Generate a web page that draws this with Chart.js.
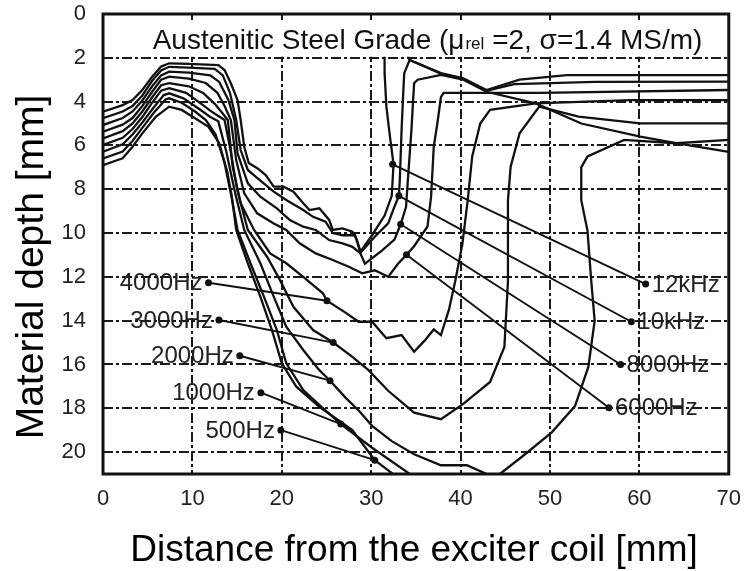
<!DOCTYPE html>
<html>
<head>
<meta charset="utf-8">
<script src="https://cdn.jsdelivr.net/npm/chart.js@4.4.0/dist/chart.umd.min.js"></script>
<style>
  html, body { margin: 0; padding: 0; background: #fff; }
  #wrap { width: 753px; height: 571px; }
</style>
</head>
<body>
<div id="wrap"><canvas id="depthChart" width="753" height="571"></canvas></div>
<script>
// contour lines: [distance from coil mm, material depth mm]
const f12k = [[0,4.46],[2.2,4.16],[3.3,3.93],[4.4,3.47],[5.5,2.86],[6.5,2.4],[7.4,2.25],[9.6,2.28],[12.9,2.33],[13.6,2.56],[14.3,3.16],[15.05,3.93],[15.4,4.84],[15.8,6.06],[16.3,6.8],[17.3,7.05],[18.2,7.35],[19.1,7.88],[20.2,7.88],[21.3,8.11],[22.4,8.64],[23.1,8.95],[24.2,8.87],[25.3,9.4],[25.7,9.86],[26.8,9.79],[27.9,9.94],[28.4,10.32],[28.8,10.85],[30.1,10.1],[31.5,9.2],[32.3,8.3],[32.5,6.86],[32.1,5.6],[31.7,4.23],[31.5,2.7],[31.5,1.9],[31.6,1.0],[33.5,1.2],[34.3,2.1],[37.8,2.7],[40.3,2.94],[42.9,3.47],[46.6,3.0],[51.9,2.79],[70,2.79]];
const f10k = [[0,4.76],[2.2,4.45],[3.3,4.2],[4.4,3.72],[5.5,3.05],[6.5,2.58],[7.4,2.41],[9.6,2.45],[12.5,2.5],[13.4,2.8],[14.2,3.6],[14.9,4.84],[15.4,6.21],[16.2,7.12],[17.3,7.5],[19.1,8.11],[20.5,8.49],[22.4,8.95],[23.5,9.26],[24.9,9.48],[25.7,10.0],[26.8,10.1],[28.2,10.1],[28.8,10.9],[30.4,10.17],[31.9,9.56],[32.6,8.8],[33.1,8.3],[33.2,7.6],[33.4,5.3],[33.6,3.47],[33.7,2.7],[34.3,2.1],[37.8,2.72],[40.3,2.96],[42.9,3.5],[46,3.2],[55,3.1],[70,3.09]];
const f8k = [[0,5.07],[2.2,4.75],[3.3,4.45],[4.4,3.95],[5.5,3.3],[6.5,2.8],[7.4,2.63],[9.6,2.68],[12.0,2.8],[13.0,3.1],[14.0,3.9],[14.7,4.84],[15.05,6.36],[16.2,7.73],[17.6,8.34],[19.45,8.87],[20.9,9.41],[22.4,9.71],[23.8,9.86],[25.3,10.32],[26.8,10.47],[27.9,10.63],[28.8,10.93],[29.3,11.4],[31.2,10.8],[32.6,10.3],[33.3,9.6],[33.9,8.8],[34.1,7.6],[34.5,5.3],[34.8,3.16],[35.2,3.0],[37.8,2.78],[40.3,3.0],[42.9,3.55],[48.4,4.08],[53.5,5.0],[60.1,5.6],[64.1,5.9],[70,6.29]];
const f6k = [[0,5.37],[2.2,5.05],[3.3,4.75],[4.4,4.2],[5.5,3.55],[6.5,3.0],[7.4,2.86],[9.6,2.95],[11.5,3.15],[12.8,3.6],[13.6,4.2],[14.3,4.84],[14.9,6.67],[15.8,8.19],[17.25,9.1],[19.1,9.56],[20.5,9.86],[22.0,10.47],[23.8,10.93],[25.7,11.23],[27.5,11.54],[29.0,11.84],[30.4,11.7],[31.9,12.0],[33.0,11.4],[33.95,10.99],[34.8,10.6],[36.3,9.7],[36.7,8.34],[37.0,6.06],[37.4,5.0],[37.8,3.8],[38.1,3.6],[48.8,3.6],[70,3.47]];
const f4k = [[0,5.68],[2.2,5.35],[3.3,5.0],[4.4,4.45],[5.5,3.8],[6.5,3.25],[7.4,3.16],[9.6,3.3],[11.2,3.6],[12.5,4.1],[13.3,4.5],[13.96,4.84],[14.5,6.97],[15.4,8.64],[16.9,9.86],[18.7,10.93],[20.5,11.38],[22.4,12.0],[24.6,12.75],[25.05,13.09],[27.0,13.6],[28.6,14.05],[30.1,14.05],[31.7,14.8],[33.4,14.66],[34.8,15.42],[36,14.9],[37,14.4],[37.8,14.66],[38.7,13.5],[39.4,12.2],[40.2,10.5],[40.8,8.5],[41.3,6.5],[42.2,5.0],[43.3,4.38],[48.4,4.08],[59,3.93],[70,3.93]];
const f3k = [[0,5.98],[2.2,5.65],[3.3,5.25],[4.4,4.7],[5.5,4.05],[6.5,3.5],[7.4,3.39],[9.3,3.6],[11.0,4.1],[12.3,4.5],[13.6,4.84],[14.3,6.3],[15.0,8.0],[16.2,9.86],[18.35,11.08],[19.8,12.15],[21.3,13.37],[23.5,14.43],[25.75,15.0],[27.9,15.65],[29.7,16.26],[31.9,17.2],[34.8,18.2],[37.8,18.5],[40.3,17.8],[43.3,16.8],[44.9,15.2],[45.1,13.7],[45.3,12.2],[45.3,10.8],[45.3,8.5],[45.6,6.97],[46.6,5.45],[48.8,4.23],[53.2,4.69],[60.1,4.99],[70,4.99]];
const f2k = [[0,6.29],[2.2,5.95],[3.3,5.5],[4.4,4.95],[5.6,4.3],[6.8,3.7],[7.4,3.62],[9.0,3.85],[10.8,4.35],[12.0,4.7],[12.9,4.9],[13.8,6.3],[14.8,8.2],[15.8,9.86],[17.6,11.38],[19.1,12.9],[20.5,14.28],[22.4,15.34],[24.2,16.26],[25.4,16.74],[27.1,17.5],[28.6,18.1],[30.1,18.8],[32.3,19.5],[34.8,20.1],[37.8,20.6],[40.7,20.6],[42.9,21],[43.6,21.3],[44.4,21],[46.9,20.2],[50.2,19.1],[52.8,17.9],[54.3,16.1],[55,14],[54.6,12.1],[54.2,9.9],[53.5,8.5],[53.5,7.0],[54.2,6.5],[58.3,5.75],[64.1,5.9],[70,5.75]];
const f1k = [[0,6.59],[2.2,6.28],[3.3,5.8],[4.4,5.2],[5.7,4.5],[7.0,3.9],[7.4,3.85],[8.8,4.05],[10.3,4.45],[11.5,4.84],[12.6,5.5],[13.6,6.8],[14.4,8.4],[15.05,9.86],[16.5,11.38],[18.0,12.9],[19.45,14.43],[20.5,15.95],[22.4,17.17],[24.9,18.1],[26.6,18.72],[30.1,19.8],[34.5,21.05]];
const f500 = [[0,6.9],[2.2,6.59],[3.3,6.06],[4.4,5.45],[5.9,4.69],[7.4,4.23],[8.8,4.38],[10.3,4.76],[11.8,5.15],[13.0,5.9],[13.9,7.2],[14.4,8.3],[14.9,9.86],[16.2,11.38],[17.6,12.9],[18.9,14.43],[20.0,15.95],[21.6,17.0],[24.2,17.93],[27.9,19.0],[30.4,20.37],[32.6,21.05]];

const freqNames = ['12kHz', '10kHz', '8000Hz', '6000Hz', '4000Hz', '3000Hz', '2000Hz', '1000Hz', '500Hz'];
const curveDots = [[32.4,6.86],[33.1,8.3],[33.3,9.6],[33.95,10.99],[25.05,13.09],[25.75,15.0],[25.4,16.74],[26.6,18.72],[30.4,20.37]];
const labelDots = [[60.7,12.33],[59.1,14.05],[57.9,16.0],[56.6,17.98],[11.8,12.27],[12.97,13.97],[15.3,15.6],[17.66,17.29],[19.9,19.0]];

const distTicks = [0, 10, 20, 30, 40, 50, 60, 70];
const depthTicks = [0, 2, 4, 6, 8, 10, 12, 14, 16, 18, 20];

const curves = [f12k, f10k, f8k, f6k, f4k, f3k, f2k, f1k, f500];
const FONT = '"Liberation Sans", Arial, sans-serif';

var datasets = curves.map(function (pts, i) {
  return {
    label: freqNames[i],
    data: pts.map(p => ({ x: p[0], y: p[1] })),
    borderColor: '#111',
    borderWidth: 2.3,
    pointRadius: 0,
    tension: 0,
    fill: false
  };
});
// leader lines from the label to the contour
freqNames.forEach(function (name, i) {
  datasets.push({
    label: name + ' leader',
    data: [{ x: curveDots[i][0], y: curveDots[i][1] }, { x: labelDots[i][0], y: labelDots[i][1] }],
    borderColor: '#111',
    borderWidth: 1.9,
    pointRadius: 3.5,
    pointBackgroundColor: '#111',
    pointBorderWidth: 0,
    fill: false
  });
});

const overlay = {
  id: 'overlay',
  afterDatasetsDraw(chart) {
    const { ctx, chartArea: a, scales: { x, y } } = chart;
    ctx.save();

    // white title box inside the plot
    const boxBottom = y.getPixelForValue(1.95);
    ctx.fillStyle = '#fff';
    ctx.fillRect(a.left + 2, a.top + 6, a.right - a.left - 4, boxBottom - a.top - 6);

    // title text with small "rel"
    const big = '28px ' + FONT, small = '17px ' + FONT;
    const p1 = 'Austenitic Steel Grade (\u03bc', p2 = 'rel', p3 = ' =2, \u03c3=1.4 MS/m)';
    ctx.font = big; const w1 = ctx.measureText(p1).width, w3 = ctx.measureText(p3).width;
    ctx.font = small; const w2 = ctx.measureText(p2).width;
    let tx = 427 - (w1 + w2 + w3) / 2;
    const ty = 49;
    ctx.fillStyle = '#111';
    ctx.textAlign = 'left';
    ctx.textBaseline = 'alphabetic';
    ctx.font = big; ctx.fillText(p1, tx, ty); tx += w1 + 1;
    ctx.font = small; ctx.fillText(p2, tx, ty); tx += w2;
    ctx.font = big; ctx.fillText(p3, tx, ty);

    // frequency labels next to the leader dots
    ctx.font = '24px ' + FONT;
    ctx.fillStyle = '#222';
    ctx.textBaseline = 'middle';
    freqNames.forEach(function (name, i) {
      const px = x.getPixelForValue(labelDots[i][0]);
      const py = y.getPixelForValue(labelDots[i][1]);
      const onRight = labelDots[i][0] > 40;
      ctx.textAlign = onRight ? 'left' : 'right';
      ctx.fillText(name, px + (onRight ? 6 : -6), py + 1);
    });

    // frame
    ctx.strokeStyle = '#111';
    ctx.lineWidth = 3;
    ctx.strokeRect(a.left, a.top, a.right - a.left, a.bottom - a.top);
    ctx.restore();
  },
  afterDraw(chart) {
    const { ctx } = chart;
    ctx.save();
    ctx.fillStyle = '#000';
    ctx.font = '37px ' + FONT;
    ctx.textAlign = 'center';
    ctx.textBaseline = 'middle';
    ctx.fillText('Distance from the exciter coil [mm]', 414, 551);
    ctx.translate(32, 267);
    ctx.rotate(-Math.PI / 2);
    ctx.font = '39px ' + FONT;
    ctx.fillText('Material depth [mm]', 0, 0);
    ctx.restore();
  }
};

const gridStyle = { color: '#1a1a1a', lineWidth: 2, drawTicks: false };

new Chart(document.getElementById('depthChart'), {
  type: 'line',
  data: { datasets: datasets },
  options: {
    responsive: false,
    animation: false,
    layout: { autoPadding: false, padding: { top: 0, right: 13, left: 0, bottom: 0 } },
    plugins: { legend: { display: false }, tooltip: { enabled: false } },
    scales: {
      x: {
        type: 'linear',
        min: 0,
        max: 70,
        afterBuildTicks: s => { s.ticks = distTicks.map(v => ({ value: v })); },
        afterFit: s => { s.height = 97; },
        grid: gridStyle,
        border: { display: false, dash: [10, 3, 3, 3] },
        ticks: { color: '#222', padding: 12, maxRotation: 0, font: { family: FONT, size: 22 } }
      },
      y: {
        type: 'linear',
        min: 0,
        max: 21,
        reverse: true,
        afterBuildTicks: s => { s.ticks = depthTicks.map(v => ({ value: v })); },
        afterFit: s => { s.width = 103; s.paddingTop = 14; s.paddingBottom = 0; },
        grid: gridStyle,
        border: { display: false, dash: [10, 3, 3, 3] },
        ticks: { color: '#222', padding: 17, font: { family: FONT, size: 22 } }
      }
    }
  },
  plugins: [overlay]
});
</script>
</body>
</html>
